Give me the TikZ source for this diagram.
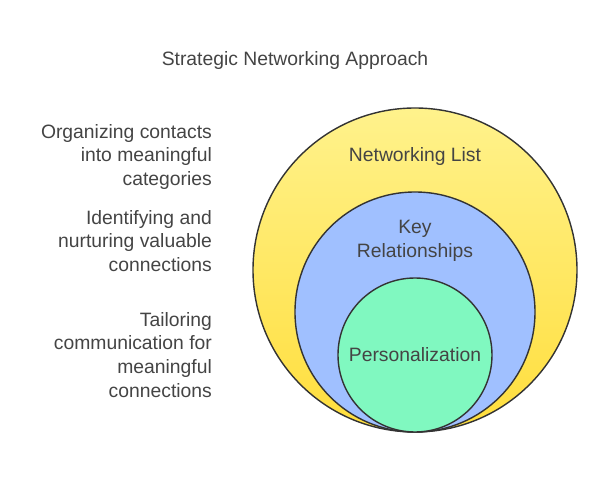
\documentclass[tikz,border=0pt]{standalone}
\usepackage{fontspec}
\setmainfont{Liberation Sans}
\usetikzlibrary{positioning}
\definecolor{ringline}{HTML}{333333}
\definecolor{txtgray}{HTML}{444444}
\begin{document}
\begin{tikzpicture}[x=0.03cm,y=-0.03cm,
    ring/.style={draw=ringline,line width=1.2pt},
    lbl/.style={text=txtgray,font=\fontsize{16.5}{20.4}\selectfont,align=center},
    note/.style={text=txtgray,font=\fontsize{16.5}{20.4}\selectfont,align=right,anchor=east}]
  \useasboundingbox (0,0) rectangle (602,483);
  \node[lbl] (title) at (295,61) {Strategic Networking Approach};

  \shade[top color={rgb,255:red,255;green,242;blue,140},bottom color={rgb,255:red,255;green,222;blue,60}] (415,270) circle (162);
  \draw[ring] (415,270) circle (162);
  \filldraw[ring,fill={rgb,255:red,160;green,192;blue,255}] (415,312) circle (120);
  \filldraw[ring,fill={rgb,255:red,128;green,248;blue,192}] (415,355) circle (77);

  \node[lbl] (list) at (415,157) {Networking List};
  \node[lbl] (key) at (415,241) {Key\\Relationships};
  \node[lbl] (pers) at (415,355) {Personalization};

  \node[note] (n1) at (216,157) {Organizing contacts\\into meaningful\\categories};
  \node[note] (n2) at (216,241) {Identifying and\\nurturing valuable\\connections};
  \node[note] (n3) at (216,355) {Tailoring\\communication for\\meaningful\\connections};
\end{tikzpicture}
\end{document}
